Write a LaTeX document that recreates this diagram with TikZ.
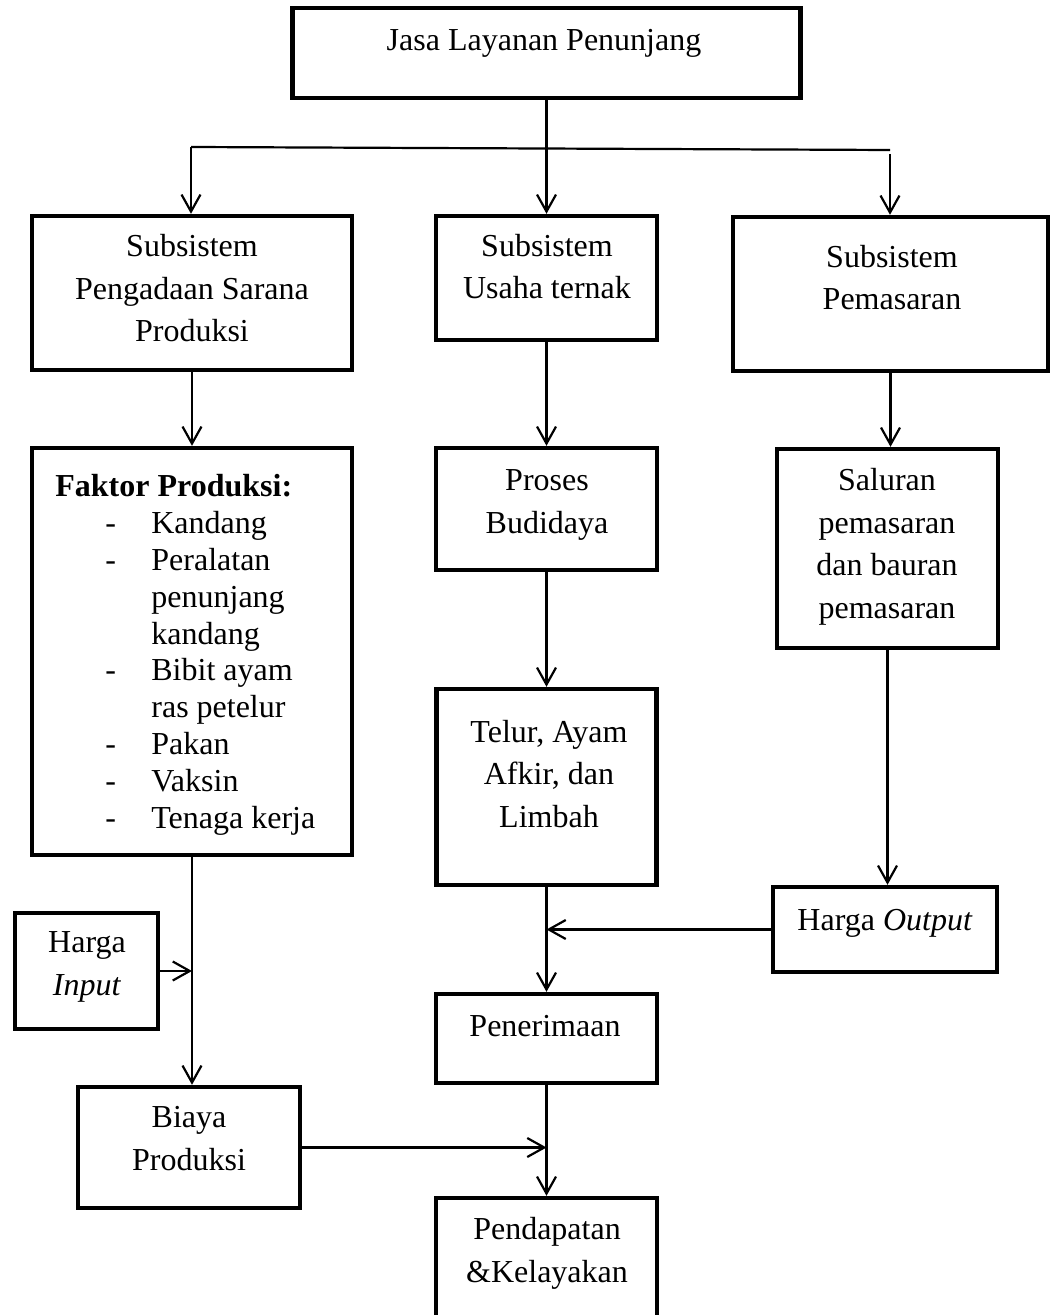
\documentclass[tikz,border=0pt]{standalone}
\usepackage{fontspec}
\setmainfont{Liberation Serif}
\usetikzlibrary{arrows.meta}
\begin{document}
\begin{tikzpicture}[x=0.5pt,y=-0.5pt,
  box/.style={draw, line width=2.2pt, rectangle, inner sep=0pt},
  lbl/.style={anchor=base, align=center, inner sep=0pt, font=\fontsize{16}{21.25}\selectfont},
  conn/.style={line width=1.1pt, -{Straight Barb[length=8.5pt,width=9.5pt]}},
  plain/.style={line width=1.1pt}]
\clip (0,0) rectangle (1051,1315);
% boxes
\node[box, minimum width=254pt, minimum height=45pt] (top) at (546.5,53) {};
\node[box, minimum width=160pt, minimum height=77pt] (b1) at (192,293) {};
\node[box, minimum width=110.5pt, minimum height=62pt] (b2) at (546.5,278) {};
\node[box, minimum width=157.5pt, minimum height=77pt] (b3) at (890.5,294) {};
\node[box, minimum width=160pt, minimum height=203.5pt] (fak) at (192,651.5) {};
\node[box, minimum width=110.5pt, minimum height=61pt] (pro) at (546.5,509) {};
\node[box, minimum width=110.5pt, minimum height=99.5pt] (sal) at (887.5,548.5) {};
\node[box, minimum width=110pt, minimum height=98pt] (tel) at (546.5,787) {};
\node[box, minimum width=112pt, minimum height=42.5pt] (hout) at (885,929.5) {};
\node[box, minimum width=71.5pt, minimum height=58pt] (hin) at (86.5,971) {};
\node[box, minimum width=110.5pt, minimum height=44.5pt] (pen) at (546.5,1038.5) {};
\node[box, minimum width=111pt, minimum height=60.5pt] (bia) at (189,1147.5) {};
\node[box, minimum width=110.5pt, minimum height=81pt] (pend) at (546.5,1279) {};
% texts (base anchor = baseline of the last line)
\node[lbl] (ttop) at (544,51) {Jasa Layanan Penunjang};
\node[lbl] (t1) at (192,342) {Subsistem\\Pengadaan Sarana\\Produksi};
\node[lbl] (t2) at (547,299) {Subsistem\\Usaha ternak};
\node[lbl] (t3) at (892,310) {Subsistem\\Pemasaran};
\node[lbl] (tpro) at (547,533) {Proses\\Budidaya};
\node[lbl] (tsal) at (887,618) {Saluran\\pemasaran\\dan bauran\\pemasaran};
\node[lbl] (ttel) at (549,827) {Telur, Ayam\\Afkir, dan\\Limbah};
\node[lbl] (thout) at (885,930) {Harga \textit{Output}};
\node[lbl] (thin) at (87,995) {Harga\\\textit{Input}};
\node[lbl] (tpen) at (545,1036) {Penerimaan};
\node[lbl] (tbia) at (189,1170) {Biaya\\Produksi};
\node[lbl] (tpend) at (547,1282) {Pendapatan\\\&Kelayakan};
\node[anchor=base west, align=left, inner sep=0pt, font=\fontsize{16}{18.4}\selectfont] (tfak) at (55,828)
 {\textbf{Faktor Produksi:}\\
  \hspace*{25pt}\makebox[23pt][l]{-}Kandang\\
  \hspace*{25pt}\makebox[23pt][l]{-}Peralatan\\
  \hspace*{48pt}penunjang\\
  \hspace*{48pt}kandang\\
  \hspace*{25pt}\makebox[23pt][l]{-}Bibit ayam\\
  \hspace*{48pt}ras petelur\\
  \hspace*{25pt}\makebox[23pt][l]{-}Pakan\\
  \hspace*{25pt}\makebox[23pt][l]{-}Vaksin\\
  \hspace*{25pt}\makebox[23pt][l]{-}Tenaga kerja};
% connectors
\coordinate (hl) at (191,147);
\coordinate (hr) at (890,150);
\coordinate (hr2) at (890,154);
\draw[conn] (top.south) -- (b2.north);
\draw[plain] (hl) -- (hr);
\draw[conn] (hl) -- (hl |- b1.north);
\draw[conn] (hr2) -- (hr2 |- b3.north);
\draw[conn] (b1.south) -- (fak.north);
\draw[conn] (b2.south) -- (pro.north);
\draw[conn] (pro.south) -- (tel.north);
\draw[conn] (b3.south) -- (b3.south |- sal.north);
\draw[conn] (sal.south) -- (sal.south |- hout.north);
\draw[conn] (hout.west) -- (tel.south |- hout.west);
\draw[conn] (tel.south) -- (pen.north);
\draw[conn] (fak.south) -- (fak.south |- bia.north);
\draw[conn] (hin.east) -- (fak.south |- hin.east);
\draw[conn] (bia.east) -- (pen.south |- bia.east);
\draw[conn] (pen.south) -- (pend.north);
\end{tikzpicture}
\end{document}
